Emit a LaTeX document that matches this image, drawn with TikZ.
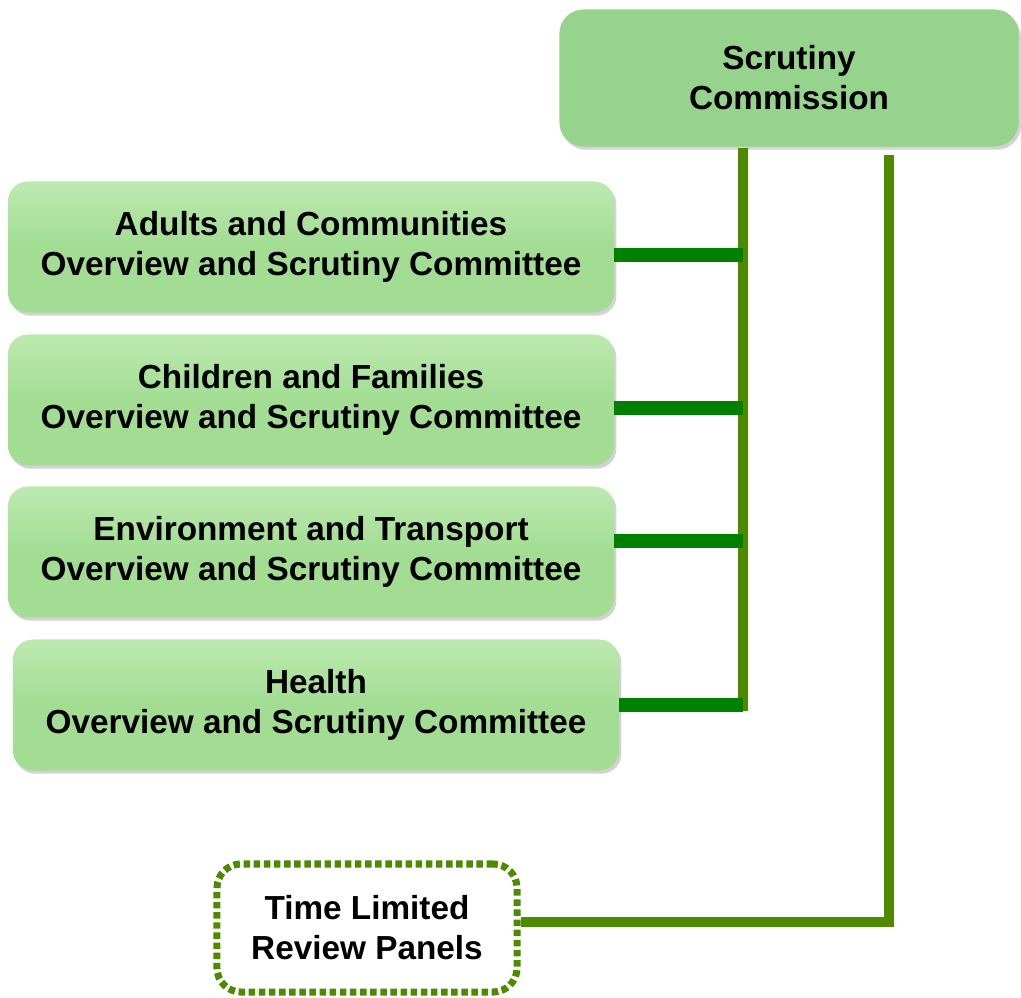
\documentclass[tikz,border=0pt]{standalone}
\usepackage{fontspec}
\setmainfont{Liberation Sans}
\usepackage{tikz}
\usetikzlibrary{shadows}
\usetikzlibrary{positioning}
\definecolor{commfill}{HTML}{96D38C}
\definecolor{boxfill}{HTML}{A2DD93}
\definecolor{boxtop}{HTML}{BDE9B0}
\definecolor{spine}{HTML}{4E8A00}
\definecolor{branch}{HTML}{008000}

\begin{document}
\begin{tikzpicture}[x=0.025cm,y=-0.025cm,
  label text/.style={font=\fontsize{23.7}{28.5}\selectfont\bfseries,text=black,align=center},
  commbox/.style={label text,rectangle,rounded corners=0.6cm,fill=commfill,draw=none,
    drop shadow={shadow xshift=0.06cm,shadow yshift=-0.08cm,opacity=0.35},
    minimum width=11.475cm,minimum height=3.425cm},
  osbox/.style={label text,rectangle,rounded corners=0.5cm,draw=none,
    top color=boxtop,bottom color=boxfill,middle color=boxfill,
    drop shadow={shadow xshift=0.06cm,shadow yshift=-0.08cm,opacity=0.35},
    minimum width=15.15cm,minimum height=3.275cm},
  panelbox/.style={label text,rectangle,rounded corners=0.6cm,draw=spine,line width=5pt,
    dash pattern=on 4.6pt off 2.6pt,fill=white,
    minimum width=7.5cm,minimum height=3.2cm},
  trunk/.style={draw=spine,line width=7pt},
  link/.style={draw=branch,line width=10pt}]
\useasboundingbox (0,0) rectangle (1021,998);

\node[commbox] (comm) at (789,78) {Scrutiny\\Commission};

\node[osbox] (adults) at (311,247) {Adults and Communities\\Overview and Scrutiny Committee};
\node[osbox] (children) at (311,400) {Children and Families\\Overview and Scrutiny Committee};
\node[osbox] (env) at (311,552) {Environment and Transport\\Overview and Scrutiny Committee};
\node[osbox] (health) at (316,705) {Health\\Overview and Scrutiny Committee};

\node[panelbox] (panels) at (367,928) {Time Limited\\Review Panels};

\coordinate (s1top) at (743,148);
\coordinate (s1bot) at (743,711);
\coordinate (ja) at (743,255);
\coordinate (jc) at (743,408);
\coordinate (je) at (743,541);
\coordinate (jh) at (743,705);
\coordinate (s2top) at (889,155);
\coordinate (jp) at (889,922);

\draw[trunk] (s1top) -- (s1bot);
\draw[link] (adults.east |- ja) -- (ja);
\draw[link] (children.east |- jc) -- (jc);
\draw[link] (env.east |- je) -- (je);
\draw[link] (health.east |- jh) -- (jh);
\draw[trunk] (s2top) -- (jp) -- (panels.east |- jp);

\end{tikzpicture}
\end{document}
